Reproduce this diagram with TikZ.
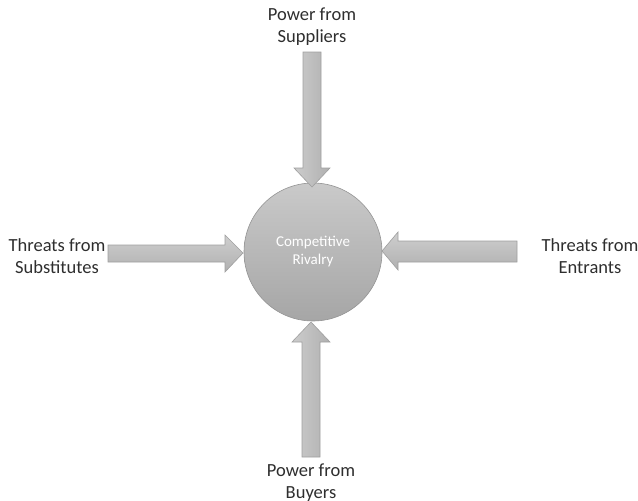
\documentclass[tikz,border=0pt]{standalone}
\usepackage{fontspec}
\setmainfont{Carlito}
\begin{document}
\begin{tikzpicture}[x=1pt, y=-1pt,
  label/.style={align=center, text=black!82, inner sep=0pt, font=\fontsize{18.5}{22}\selectfont},
  force/.style={draw=gray!75, line width=0.6pt},
  vforce/.style={force, left color=gray!40, right color=gray!62},
  hforce/.style={force, top color=gray!38, bottom color=gray!62}]
  \useasboundingbox (0,0) rectangle (638,501);

  % central circle
  \node[circle, minimum size=138pt, inner sep=0pt, draw=gray!85, line width=0.6pt,
        top color=gray!42, bottom color=gray!70,
        text=white, align=center, font=\fontsize{15}{18}\selectfont]
        (rivalry) at (313,252) {Competitive\\Rivalry};

  % four forces pointing inward
  \path[vforce] (303,52) -- (321,52) -- (321,168) -- (330,168) -- (312,187)
    -- (294,168) -- (303,168) -- cycle;
  \path[vforce] (302,457) -- (320,457) -- (320,342) -- (330,342) -- (311,322)
    -- (292,342) -- (302,342) -- cycle;
  \path[hforce] (108,245) -- (225,245) -- (225,235) -- (243,253) -- (225,272)
    -- (225,262) -- (108,262) -- cycle;
  \path[hforce] (517,241) -- (398,241) -- (398,232) -- (382,251) -- (398,270)
    -- (398,262) -- (517,262) -- cycle;

  % labels
  \node[label] (suppliers) at (312,27) {Power from\\Suppliers};
  \node[label] (buyers) at (311,483) {Power from\\Buyers};
  \node[label] (substitutes) at (57,256) {Threats from\\Substitutes};
  \node[label] (entrants) at (590,256) {Threats from\\Entrants};
\end{tikzpicture}
\end{document}
